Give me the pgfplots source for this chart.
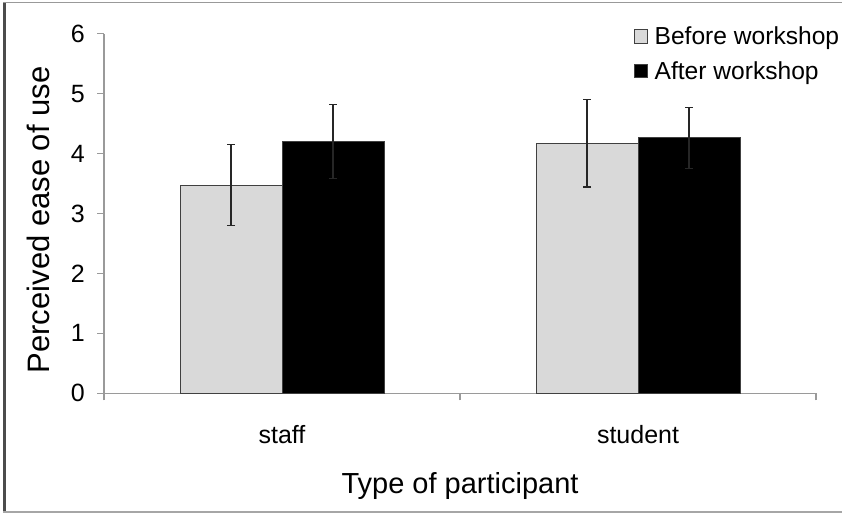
\documentclass[border=0pt]{standalone}
\usepackage{fontspec}
\setmainfont{Liberation Sans}
\usepackage{pgfplots}
\pgfplotsset{compat=1.18}
\definecolor{beforefill}{HTML}{D9D9D9}
\definecolor{axisgray}{HTML}{9A9A9A}
\definecolor{edgegray}{HTML}{404040}
\begin{document}
\begin{tikzpicture}[x=1pt,y=1pt]
\path[use as bounding box] (0,0) rectangle (842,516);
\draw[color=black!70, line width=3pt] (4.3,4.3) -- (4.3,513.3);
\draw[color=black!40, line width=1.5pt] (3,513.3) -- (842,513.3);
\draw[color=black!35, line width=1.7pt] (3,4.3) -- (842,4.3);
\begin{axis}[
  at={(104pt,122.7pt)}, anchor=south west,
  scale only axis, width=712pt, height=359.6pt,
  xmin=-0.5, xmax=1.5, ymin=0, ymax=6,
  enlarge x limits=false,
  axis x line=bottom, axis y line=left,
  axis line style={-, draw=axisgray, line width=1.3pt},
  tick style={draw=axisgray, line width=1.3pt},
  major tick length=7pt, tick align=outside,
  ytick={0,1,2,3,4,5,6},
  xtick={-0.5,0.5,1.5}, xticklabels={,,},
  extra x ticks={0,1}, extra x tick labels={staff,student},
  extra x tick style={major tick length=0pt},
  xticklabel style={font=\fontsize{25}{25}\selectfont, anchor=base, yshift=-50pt},
  yticklabel style={font=\fontsize{25}{25}\selectfont, anchor=east, inner sep=0pt, xshift=-12pt},
  /pgf/number format/assume math mode=true,
  xlabel={Type of participant},
  xlabel style={font=\fontsize{29}{29}\selectfont, at={(axis description cs:0.5,0)}, anchor=base, yshift=-100pt},
  ylabel={Perceived ease of use},
  ylabel style={font=\fontsize{31}{31}\selectfont, at={(axis description cs:-0.076,0.482)}, anchor=base},
  ybar=0pt, bar width=102pt,
  legend style={at={(0.7444,1.025)}, anchor=north west, draw=none, fill=none,
    font=\fontsize{24.6}{24.6}\selectfont, cells={anchor=west}, row sep=11pt, inner sep=0pt},
  legend image code/.code={\draw[#1, draw=edgegray, line width=0.8pt] (0pt,-6.4pt) rectangle (13pt,7pt); \path[draw=none,fill=none] (18pt,0pt);},
]
\addplot[fill=beforefill, draw=edgegray, line width=1pt,
  error bars/.cd, y dir=both, y explicit,
  error bar style={line width=1.3pt, color=black!85},
  error mark options={rotate=90, line width=1.3pt, mark size=4pt, color=black!85}]
  coordinates {(0,3.475) +- (0,0.675) (1,4.17) +- (0,0.73)};
\addplot[fill=black, draw=edgegray, line width=1pt,
  error bars/.cd, y dir=both, y explicit,
  error bar style={line width=1.3pt, color=black!85},
  error mark options={rotate=90, line width=1.3pt, mark size=4pt, color=black!85}]
  coordinates {(0,4.20) +- (0,0.62) (1,4.26) +- (0,0.51)};
\legend{Before workshop, After workshop}
\end{axis}
\end{tikzpicture}
\end{document}
